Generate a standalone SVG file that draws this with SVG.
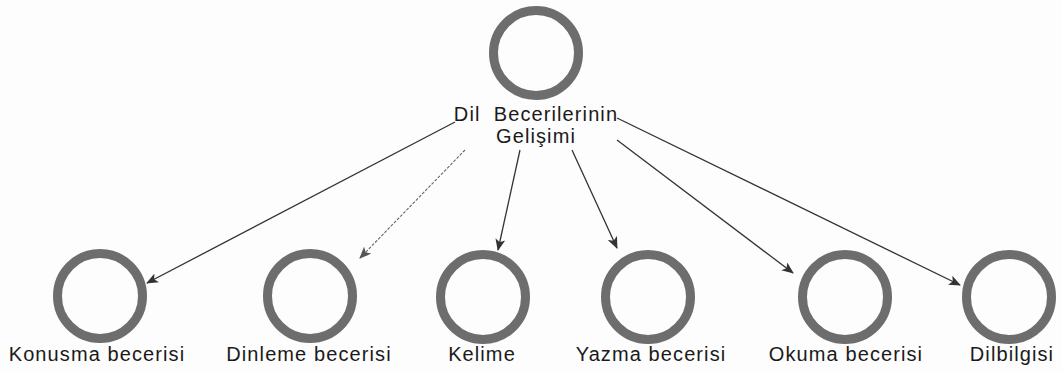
<svg xmlns="http://www.w3.org/2000/svg" width="1062" height="371" viewBox="0 0 1062 371">
  <defs>
    <marker id="ah" viewBox="0 0 12 10" refX="11" refY="5" markerWidth="12" markerHeight="10" markerUnits="userSpaceOnUse" orient="auto">
      <path d="M0,0 L12,5 L0,10 L3,5 Z" fill="#333"/>
    </marker>
    <marker id="ahl" viewBox="0 0 12 10" refX="11" refY="5" markerWidth="12" markerHeight="10" markerUnits="userSpaceOnUse" orient="auto">
      <path d="M0,0 L12,5 L0,10 L3,5 Z" fill="#555"/>
    </marker>
  </defs>
  <style>
    .ring { fill: none; stroke: #6d6d6d; stroke-width: 9; }
    .lbl { font-family: "Liberation Sans", Arial, sans-serif; font-size: 20px; fill: #1a1a1a; text-anchor: middle; letter-spacing: 1.1px; }
    .conn { stroke: #333; stroke-width: 1.3; fill: none; marker-end: url(#ah); }
    .connl { stroke: #666; stroke-width: 1.1; fill: none; stroke-dasharray: 3 1.5; marker-end: url(#ahl); }
  </style>
  <rect width="1062" height="371" fill="#fdfdfd"/>

  <g id="root">
    <circle class="ring" cx="536" cy="53" r="42.5"/>
    <text class="lbl" x="536" y="121" xml:space="preserve">Dil  Becerilerinin</text>
    <text class="lbl" x="536" y="143">Gelişimi</text>
  </g>

  <g id="konusma">
    <circle class="ring" cx="100" cy="296" r="42.5"/>
    <text class="lbl" x="97" y="361">Konusma becerisi</text>
  </g>
  <g id="dinleme">
    <circle class="ring" cx="310" cy="296" r="42.5"/>
    <text class="lbl" x="309" y="361">Dinleme becerisi</text>
  </g>
  <g id="kelime">
    <circle class="ring" cx="483" cy="297" r="42.5"/>
    <text class="lbl" x="482" y="361">Kelime</text>
  </g>
  <g id="yazma">
    <circle class="ring" cx="648" cy="297" r="42.5"/>
    <text class="lbl" x="651" y="361">Yazma becerisi</text>
  </g>
  <g id="okuma">
    <circle class="ring" cx="845" cy="297" r="42.5"/>
    <text class="lbl" x="846" y="361">Okuma becerisi</text>
  </g>
  <g id="dilbilgisi">
    <circle class="ring" cx="1009" cy="297" r="42.5"/>
    <text class="lbl" x="1012" y="361">Dilbilgisi</text>
  </g>

  <g id="connectors">
    <line class="conn" x1="455" y1="122" x2="147" y2="283"/>
    <line class="connl" x1="465" y1="150" x2="360" y2="258"/>
    <line class="conn" x1="520" y1="150" x2="498" y2="250"/>
    <line class="conn" x1="572" y1="150" x2="617" y2="248"/>
    <line class="conn" x1="617" y1="140" x2="793" y2="273"/>
    <line class="conn" x1="617" y1="118" x2="960" y2="285"/>
  </g>
</svg>
